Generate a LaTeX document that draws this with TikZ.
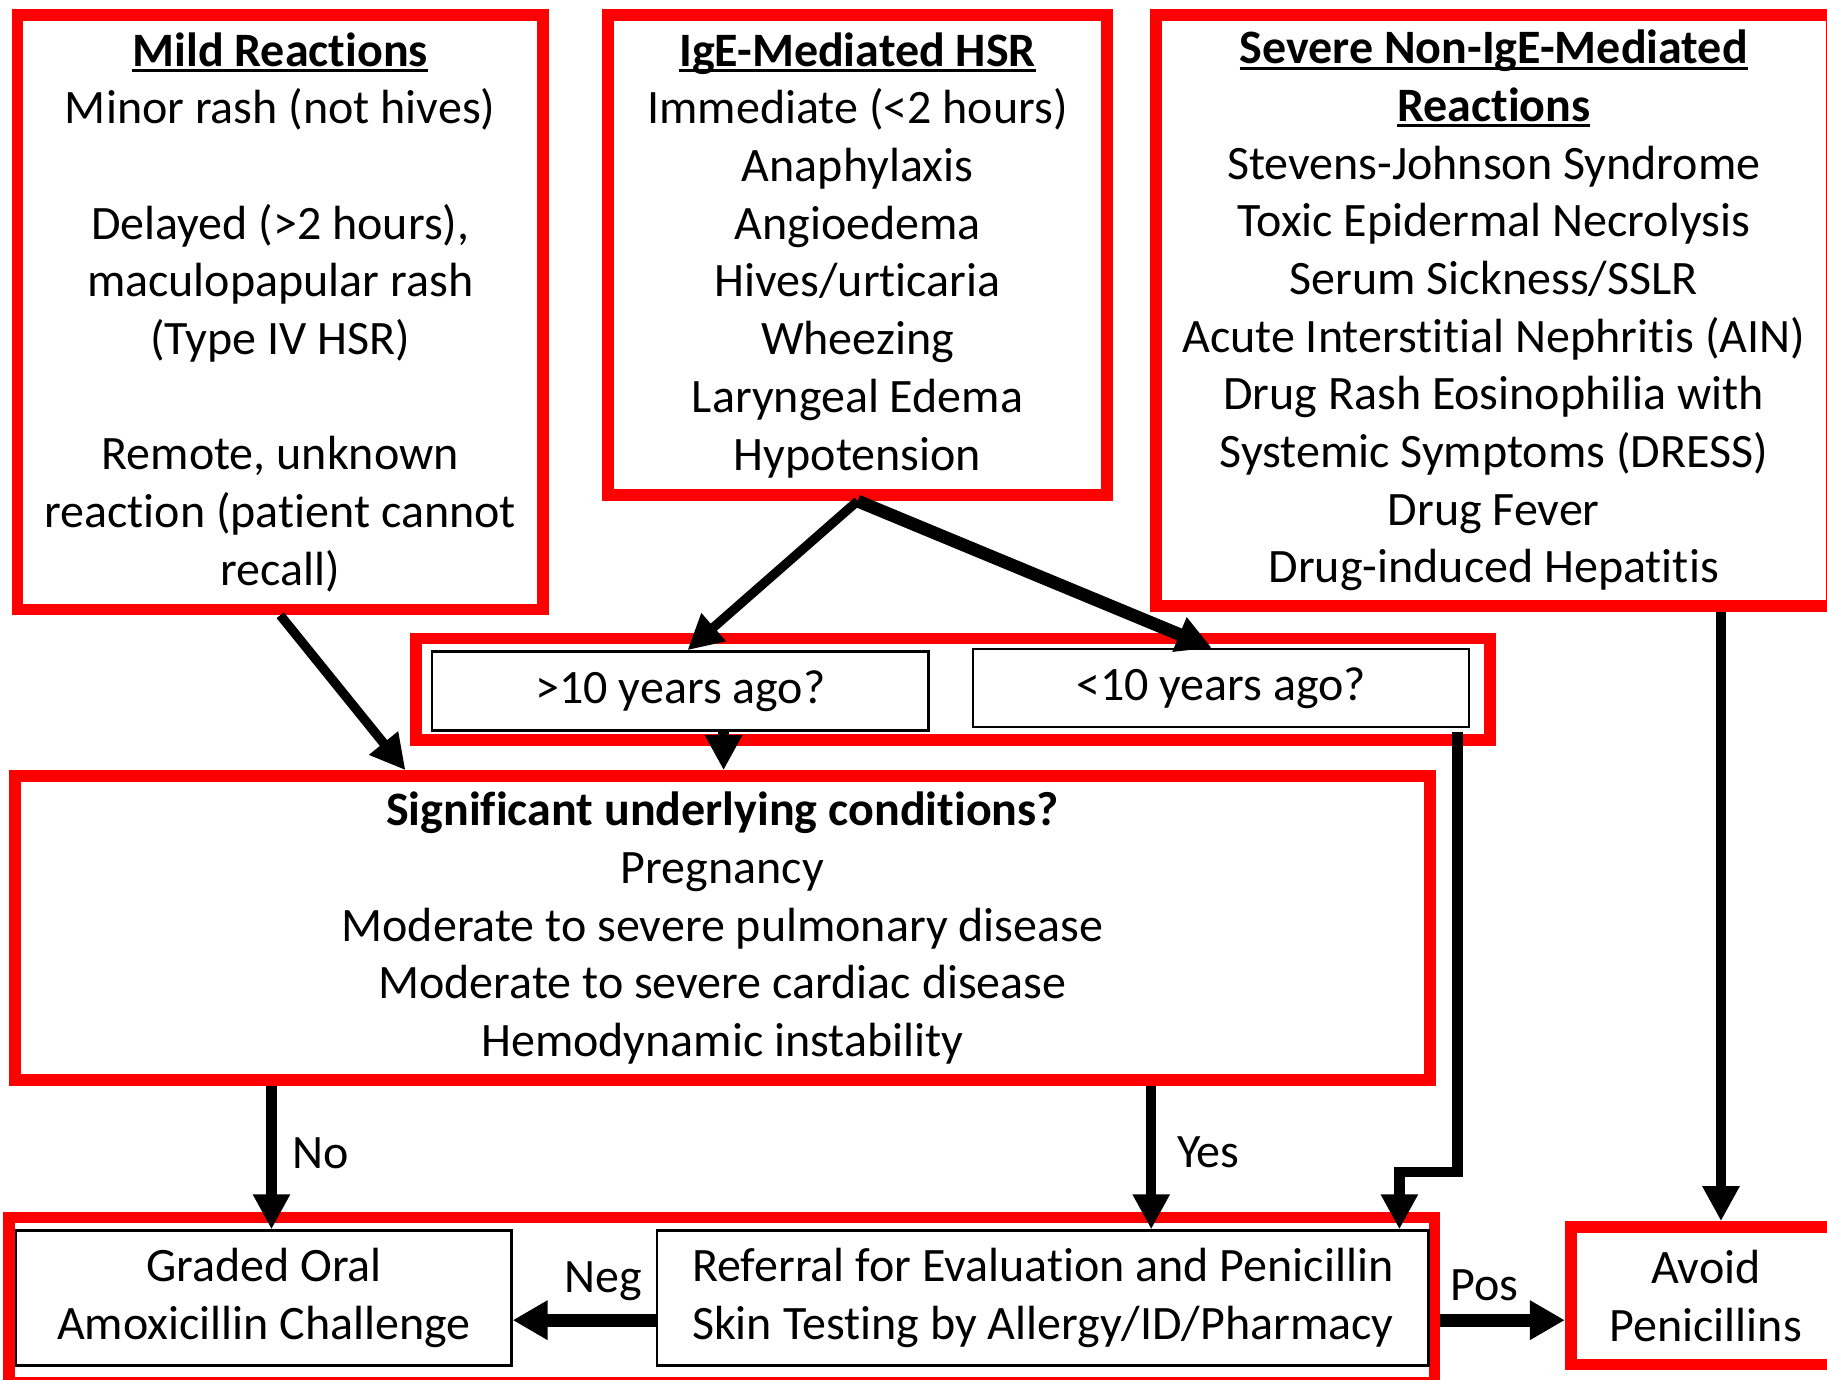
\documentclass[tikz,border=0pt]{standalone}
\usepackage{fontspec}
\setmainfont[Ligatures=NoCommon]{Carlito}
\usetikzlibrary{arrows.meta}

\newcommand{\hdr}[1]{\setbox0\hbox{\bfseries #1}\rlap{\rule[-5pt]{\wd0}{2.5pt}}\box0}

\begin{document}
\begin{tikzpicture}[x=1pt,y=-1pt,
    every node/.style={font=\fontsize{41.2}{49.5}\selectfont, align=center},
    redbox/.style={draw=red, line width=10pt, inner sep=0pt},
    thinbox/.style={draw=black, line width=2pt, inner sep=0pt},
    arr/.style={line width=9pt, -{Triangle[width=30pt,length=30pt]}},
    fat/.style={line width=11pt, -{Triangle[width=32pt,length=30pt]}}]
  \clip (0,0) rectangle (1568,1184);
  \fill[white] (0,0) rectangle (1568,1184);

  % top row
  \node[redbox, minimum width=451, minimum height=510] (mild) at (240.5,268)
    {\hdr{Mild Reactions}\\ Minor rash (not hives)\\[49.5pt]
     Delayed (>2 hours),\\ maculopapular rash\\ (Type IV HSR)\\[49.5pt]
     Remote, unknown\\ reaction (patient cannot\\ recall)};
  \node[redbox, minimum width=428, minimum height=412] (ige) at (736,219)
    {\hdr{IgE-Mediated HSR}\\ Immediate (<2 hours)\\ Anaphylaxis\\ Angioedema\\
     Hives/urticaria\\ Wheezing\\ Laryngeal Edema\\ Hypotension};
  \node[redbox, minimum width=580, minimum height=507] (severe) at (1282,266.5)
    {\hdr{Severe Non-IgE-Mediated}\\ \hdr{Reactions}\\ Stevens-Johnson Syndrome\\
     Toxic Epidermal Necrolysis\\ Serum Sickness/SSLR\\
     Acute Interstitial Nephritis (AIN)\\ Drug Rash Eosinophilia with\\
     Systemic Symptoms (DRESS)\\ Drug Fever\\ Drug-induced Hepatitis};

  % time since reaction
  \node[redbox, minimum width=922, minimum height=87] (yrs) at (818,591.5) {};
  \node[thinbox, minimum width=426, minimum height=68] (old) at (584,593) {>10 years ago?};
  \node[thinbox, minimum width=426, minimum height=67] (recent) at (1048,590.5) {<10 years ago?};

  % conditions
  \node[redbox, minimum width=1214, minimum height=261] (sig) at (620,796.5)
    {\textbf{Significant underlying conditions?}\\ Pregnancy\\
     Moderate to severe pulmonary disease\\ Moderate to severe cardiac disease\\
     Hemodynamic instability};

  % bottom row
  \node[redbox, minimum width=1223, minimum height=142] (grp) at (619.5,1116) {};
  \node[thinbox, minimum width=425, minimum height=116] (graded) at (226.5,1114)
    {Graded Oral\\ Amoxicillin Challenge};
  \node[thinbox, minimum width=662, minimum height=116] (refer) at (895,1114)
    {Referral for Evaluation and Penicillin\\ Skin Testing by Allergy/ID/Pharmacy};
  \node[redbox, minimum width=232, minimum height=118] (avoid) at (1464,1112)
    {Avoid\\ Penicillins};

  % connectors
  \draw[arr, line width=8pt] (mild.south) -- ([xshift=-272pt]sig.north);
  \draw[arr, line width=8pt] (ige.south) -- ([xshift=6pt]old.north);
  \draw[arr, line width=11pt] (ige.south) -- ([xshift=-8pt]recent.north);
  \draw[arr] ([xshift=37pt]old.south) -- ([xshift=37pt]old.south |- sig.north);
  \coordinate (bend) at (1201,1006);
  \draw[arr] ([xshift=-11pt,yshift=-3pt]recent.south east) |- (bend) -- (bend |- refer.north);
  \draw[arr] ([xshift=13pt]avoid.north |- severe.south) -- ([xshift=13pt]avoid.north);
  \draw[arr] ([xshift=6.5pt]graded.north |- sig.south) -- ([xshift=6.5pt]graded.north);
  \draw[arr] ([xshift=93pt]refer.north |- sig.south) -- ([xshift=93pt]refer.north);
  \coordinate (negy) at ([yshift=-19pt]refer.west);
  \draw[fat] (negy) -- (negy -| graded.east);
  \draw[fat] (negy -| grp.east) -- (negy -| avoid.west);

  % labels
  \node (lno) at (275,990) {No};
  \node (lyes) at (1037,989) {Yes};
  \node (lneg) at (518,1100) {Neg};
  \node (lpos) at (1274,1103) {Pos};
\end{tikzpicture}
\end{document}
